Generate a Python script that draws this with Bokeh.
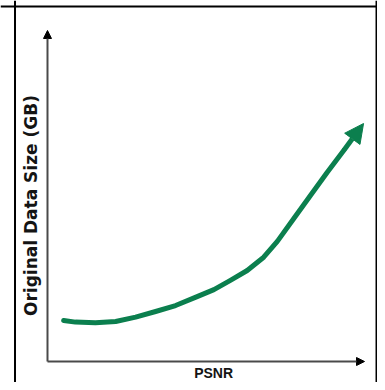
from bokeh.plotting import figure
from bokeh.models import Range1d, Arrow, NormalHead, Span
from bokeh.core.properties import value
from bokeh.embed import file_html
from bokeh.resources import INLINE
import math

# Data (abstract units: both axes run from 0 to 10)
psnr = [0.51, 0.88, 1.51, 2.15, 2.78, 3.41, 4.04, 4.72, 5.25, 5.77, 6.30, 6.82,
        7.25, 7.77, 8.30, 8.82, 9.35]
data_size = [1.24, 1.19, 1.17, 1.21, 1.34, 1.51, 1.69, 1.96, 2.17, 2.45, 2.75, 3.15,
             3.63, 4.32, 5.02, 5.71, 6.38]
tip_psnr = 9.97
tip_size = 7.19
x_label = "PSNR"
y_label = "Original Data Size (GB)"

GREEN = "#0b7f4e"

p = figure(width=377, height=382, output_backend="svg", toolbar_location=None,
           x_range=Range1d(-1.4826, 10.410), y_range=Range1d(-0.6344, 10.9063),
           min_border_left=0, min_border_right=0, min_border_top=0, min_border_bottom=0)
p.axis.visible = False
p.grid.visible = False
p.outline_line_color = None
p.background_fill_color = "white"
p.border_fill_color = "white"

# frame border (left, right, top)
p.add_layout(Span(location=-1.025, dimension="height", line_color="black", line_width=2))
p.add_layout(Span(location=10.379, dimension="height", line_color="black", line_width=2))
p.add_layout(Span(location=10.725, dimension="width", line_color="black", line_width=2))

# axes with arrows
p.add_layout(Arrow(end=NormalHead(size=8, fill_color="black", line_color="black"),
                   x_start=0, y_start=0, x_end=10, y_end=0,
                   line_color="#4a4a4a", line_width=2))
p.add_layout(Arrow(end=NormalHead(size=8, fill_color="black", line_color="black"),
                   x_start=0, y_start=0, x_end=0, y_end=10,
                   line_color="#4a4a4a", line_width=2))

# curve
p.line(psnr, data_size, line_color=GREEN, line_width=5, line_cap="round", line_join="round")
p.add_layout(Arrow(end=NormalHead(size=19, fill_color=GREEN, line_color=GREEN),
                   x_start=psnr[-1], y_start=data_size[-1], x_end=tip_psnr, y_end=tip_size,
                   line_color=GREEN, line_width=5))

# labels
p.text(x=[5.24], y=[-0.604], text=[x_label], text_font=value("Liberation Sans"),
       text_font_style="bold", text_font_size="14px", text_align="center",
       text_baseline="bottom", text_color="#141414")
p.text(x=[-0.536], y=[4.713], text=[y_label], text_font=value("DejaVu Sans"),
       text_font_style="bold", text_font_size="17px", text_align="center",
       text_baseline="middle", angle=math.pi / 2, text_color="#141414")

open("out.html", "w").write(file_html(p, INLINE))
